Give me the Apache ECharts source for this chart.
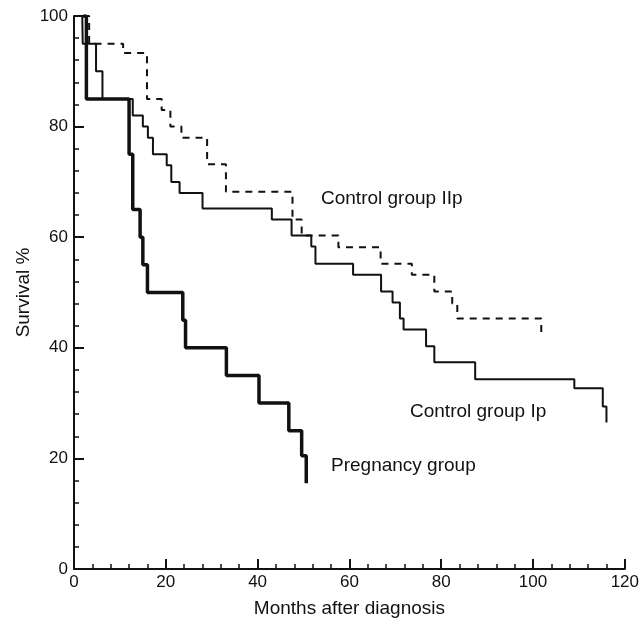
<!DOCTYPE html>
<html>
	<head>
		<meta charset="utf-8" />
		<title>Survival</title>
		<script src="https://cdn.jsdelivr.net/npm/echarts@6/dist/echarts.min.js"></script>
		<style>
			html, body { margin: 0; padding: 0; background: #fff; }
		</style>
	</head>
	<body>
		<div id="main" style="width: 642px;height: 630px;"></div>
		<script type="text/javascript">
			// 读图得到的数据 (月, 生存率%)
			var xTicks = [0, 20, 40, 60, 80, 100, 120];
			var yTicks = [0, 20, 40, 60, 80, 100];

			var pregMonths = [2, 2.7, 12, 12.8, 14.4, 15, 16, 23.7, 24.3, 33.2, 40.3, 46.8, 49.6, 50.6];
			var pregSurv   = [100, 85, 75, 65, 60, 55, 50, 45, 40, 35, 30, 25, 20.5, 15.5];

			var ipMonths = [1.8, 1.9, 4.8, 6.2, 12.8, 15, 16.1, 17.2, 20.2, 21.2, 23, 28, 43.1, 47.4, 51.7, 52.6,
				60.8, 66.9, 69.4, 71, 71.8, 76.7, 78.5, 87.4, 109, 115.2, 116];
			var ipSurv = [100, 95, 90, 85, 82, 80, 78, 75, 73, 70, 68, 65.2, 63.2, 60.3, 58.3, 55.2,
				53.2, 50.2, 48.2, 45.3, 43.3, 40.3, 37.4, 34.3, 32.7, 29.4, 26.5];

			var iipMonths = [2, 3.3, 10.7, 15.9, 19.1, 21, 23.4, 29, 33.1, 47.6, 49.6, 57.6, 66.8, 73.6, 78.5, 82.4, 83.5, 101.8];
			var iipSurv = [100, 95, 93.3, 85, 83, 80, 78, 73.2, 68.2, 63.2, 60.3, 58.2, 55.2, 53.2, 50.2, 48, 45.3, 42.6];

			function pairs(xs, ys) {
				var out = [];
				for (var i = 0; i < xs.length; i++) out.push([xs[i], ys[i]]);
				return out;
			}

			var font = 'Liberation Sans, Arial, sans-serif';
			var myChart = echarts.init(document.getElementById('main'));
			myChart.setOption({
				animation: false,
				grid: { left: 74, right: 13, top: 16, bottom: 61, containLabel: false },
				xAxis: {
					type: 'value', min: 0, max: 120, interval: 20,
					name: 'Months after diagnosis', nameLocation: 'middle', nameGap: 30,
					nameMoveOverlap: false,
					nameTextStyle: { color: '#111', fontSize: 19, fontFamily: font },
					axisLine: { lineStyle: { color: '#111', width: 2 } },
					axisTick: { inside: true, length: 10, lineStyle: { color: '#111', width: 2 } },
					minorTick: { show: true, splitNumber: 5, length: 5, lineStyle: { color: '#111', width: 1.5 } },
					axisLabel: { color: '#111', fontSize: 17, fontFamily: font, margin: 5,
						formatter: function (v) { return xTicks.indexOf(v) >= 0 ? String(v) : ''; } },
					splitLine: { show: false }
				},
				yAxis: {
					type: 'value', min: 0, max: 100, interval: 20,
					name: 'Survival %', nameLocation: 'middle', nameGap: 41,
					nameMoveOverlap: false,
					nameTextStyle: { color: '#111', fontSize: 19, fontFamily: font },
					axisLine: { show: true, lineStyle: { color: '#111', width: 2 } },
					axisTick: { show: true, inside: true, length: 10, lineStyle: { color: '#111', width: 2 } },
					minorTick: { show: true, splitNumber: 5, length: 5, lineStyle: { color: '#111', width: 1.5 } },
					axisLabel: { color: '#111', fontSize: 17, fontFamily: font, margin: 6,
						formatter: function (v) { return yTicks.indexOf(v) >= 0 ? String(v) : ''; } },
					splitLine: { show: false }
				},
				series: [
					{
						name: 'Control group IIp', type: 'line', step: 'end', showSymbol: false,
						data: pairs(iipMonths, iipSurv),
						lineStyle: { color: '#111', width: 2, type: [7, 6] }
					},
					{
						name: 'Control group Ip', type: 'line', step: 'end', showSymbol: false,
						data: pairs(ipMonths, ipSurv),
						lineStyle: { color: '#111', width: 2 }
					},
					{
						name: 'Pregnancy group', type: 'line', step: 'end', showSymbol: false,
						data: pairs(pregMonths, pregSurv),
						lineStyle: { color: '#111', width: 3.5 }
					}
				],
				graphic: [
					{ type: 'text', left: 321, top: 189, style: { text: 'Control group IIp', font: '19px ' + font, fill: '#111' } },
					{ type: 'text', left: 410, top: 402, style: { text: 'Control group Ip', font: '19px ' + font, fill: '#111' } },
					{ type: 'text', left: 331, top: 456, style: { text: 'Pregnancy group', font: '19px ' + font, fill: '#111' } }
				]
			});
		</script>
	</body>
</html>
